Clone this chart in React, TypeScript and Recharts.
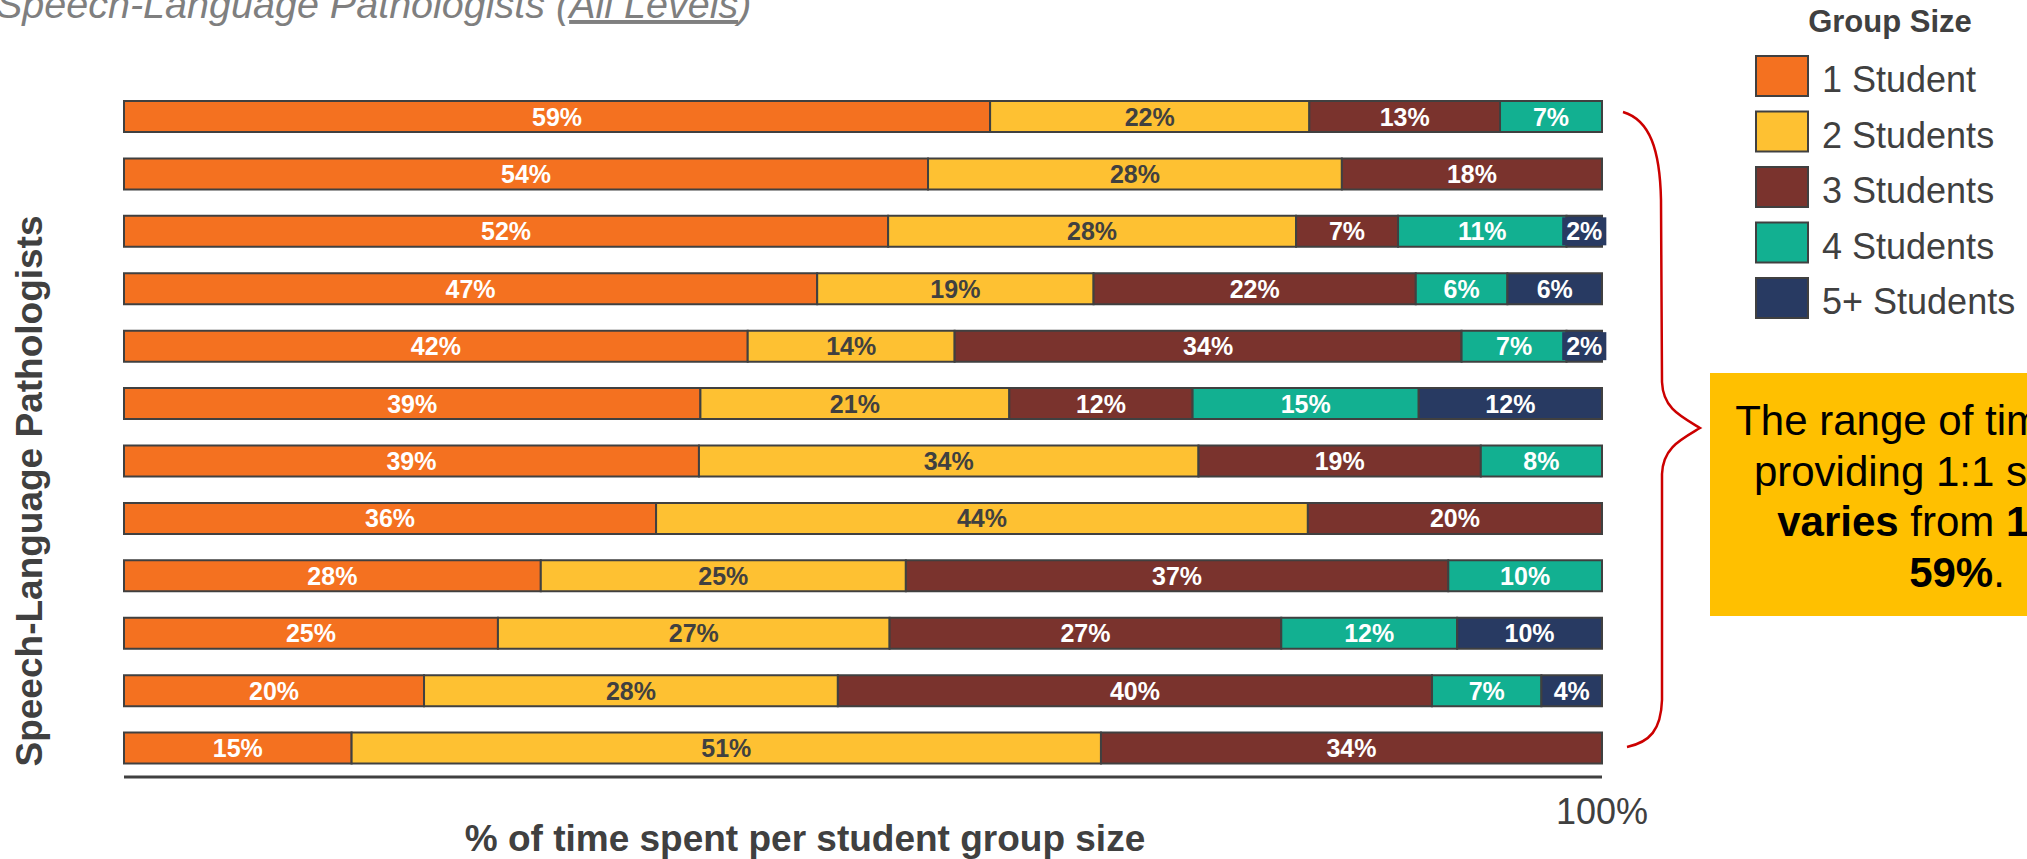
import { BarChart, Bar, XAxis, YAxis, Legend, LabelList } from "recharts";

const FONT = "Arial, 'Liberation Sans', Helvetica, sans-serif";

// one row per SLP, top to bottom
const categories = [
  "SLP 1", "SLP 2", "SLP 3", "SLP 4", "SLP 5", "SLP 6",
  "SLP 7", "SLP 8", "SLP 9", "SLP 10", "SLP 11", "SLP 12",
];

// % of time by group size
const oneStudent = [58.6, 54.4, 51.7, 46.9, 42.2, 39.0, 38.9, 36.0, 28.2, 25.3, 20.3, 15.4];
const twoStudents = [21.6, 28.0, 27.6, 18.7, 14.0, 20.9, 33.8, 44.1, 24.7, 26.5, 28.0, 50.7];
const threeStudents = [12.9, 17.6, 6.9, 21.8, 34.3, 12.4, 19.1, 19.9, 36.7, 26.5, 40.2, 33.9];
const fourStudents = [6.9, 0, 11.4, 6.2, 7.1, 15.3, 8.2, 0, 10.4, 11.9, 7.4, 0];
const fivePlusStudents = [0, 0, 2.4, 6.4, 2.4, 12.4, 0, 0, 0, 9.8, 4.1, 0];

const seriesNames = ["1 Student", "2 Students", "3 Students", "4 Students", "5+ Students"];
const seriesColors = ["#F47120", "#FEC132", "#7A332D", "#12B091", "#283A62"];
const labelColors = ["#FFFFFF", "#404040", "#FFFFFF", "#FFFFFF", "#FFFFFF"];
const xTicks = [100];

const seriesValues = [oneStudent, twoStudents, threeStudents, fourStudents, fivePlusStudents];

const data = categories.map((name, i) => {
  const row: Record<string, number | string> = { name };
  seriesValues.forEach((vals, s) => {
    row[`s${s}`] = vals[i];
  });
  return row;
});

// label with a filled box behind it, visible only when the segment is too narrow
const makeLabel = (fill: string, color: string) => (props: any) => {
  const { x, y, width, height, value } = props;
  if (!value) return null;
  const text = `${Math.round(value)}%`;
  const textW = (text.length - 1) * 0.556 * 25 + 0.889 * 25;
  const boxW = textW + 8;
  const cx = x + width / 2;
  const cy = y + height / 2;
  return (
    <g>
      {boxW > width - 2 && (
        <rect x={cx - boxW / 2} y={y + 1.5} width={boxW} height={height - 3} fill={fill} />
      )}
      <text
        x={cx}
        y={cy + 9}
        textAnchor="middle"
        fill={color}
        fontSize={25}
        fontWeight="bold"
        fontFamily={FONT}
      >
        {text}
      </text>
    </g>
  );
};

const renderLegend = (props: any) => {
  const { payload = [] } = props;
  return (
    <svg width={272} height={340}>
      <text x={135} y={32} textAnchor="middle" fontSize={31} fontWeight="bold" fill="#404040" fontFamily={FONT}>
        Group Size
      </text>
      {payload.map((entry: any, i: number) => (
        <g key={entry.value}>
          <rect x={1} y={56 + i * 55.5} width={52} height={40} fill={entry.color} stroke="#404040" strokeWidth={2} />
          <text x={67} y={92 + i * 55.5} fontSize={36} fill="#404040" fontFamily={FONT}>
            {entry.value}
          </text>
        </g>
      ))}
    </svg>
  );
};

const App = () => {
  return (
    <div
      style={{
        position: "fixed",
        left: 0,
        top: 0,
        width: 2027,
        height: 859,
        overflow: "hidden",
        background: "#fff",
        fontFamily: FONT,
      }}
    >
      <BarChart
        layout="vertical"
        width={2027}
        height={859}
        data={data}
        margin={{ top: 88, right: 425, bottom: 0, left: 124 }}
        barSize={31}
      >
        <XAxis
          type="number"
          domain={[0, 100]}
          ticks={xTicks}
          interval={0}
          tickFormatter={(v) => `${v}%`}
          tickLine={false}
          axisLine={{ stroke: "#404040", strokeWidth: 3 }}
          tick={{ fontSize: 36, fill: "#404040", fontFamily: FONT }}
          tickMargin={15}
          height={82}
        />
        <YAxis
          type="category"
          dataKey="name"
          width={0}
          tick={false}
          tickLine={false}
          axisLine={{ stroke: "#595959", strokeWidth: 2 }}
        />
        <Legend
          layout="vertical"
          align="center"
          verticalAlign="middle"
          content={renderLegend}
          wrapperStyle={{ left: 1755, top: 0, width: 272, height: 340 }}
        />
        {seriesNames.map((name, s) => (
          <Bar
            key={name}
            dataKey={`s${s}`}
            name={name}
            stackId="a"
            fill={seriesColors[s]}
            stroke="#404040"
            strokeWidth={2}
            isAnimationActive={false}
          >
            <LabelList dataKey={`s${s}`} content={makeLabel(seriesColors[s], labelColors[s])} />
          </Bar>
        ))}
      </BarChart>

      {/* titles, brace and callout */}
      <svg
        width={2027}
        height={859}
        style={{ position: "absolute", left: 0, top: 0, pointerEvents: "none" }}
        fontFamily={FONT}
      >
        {/* title runs off the top edge, as in the source slide */}
        <text x={-4} y={18} fontSize={39.5} fontStyle="italic" fill="#7F7F7F">
          Speech-Language Pathologists (<tspan style={{ textDecoration: "underline" }}>All Levels</tspan>)
        </text>
        <text
          transform="translate(42,491) rotate(-90)"
          textAnchor="middle"
          fontSize={37}
          fontWeight="bold"
          fill="#404040"
        >
          Speech-Language Pathologists
        </text>
        <text x={805} y={851} textAnchor="middle" fontSize={37} fontWeight="bold" fill="#404040">
          % of time spent per student group size
        </text>

        <path
          d="M1623,112 C1650,120 1660,150 1661,200 L1662,382 C1663,408 1680,416 1700,428 C1680,440 1663,448 1662,474 L1662,700 C1661,730 1650,742 1627,747"
          fill="none"
          stroke="#CC0000"
          strokeWidth={2.5}
        />

        <rect x={1710} y={373} width={494} height={243} fill="#FFC000" />
        <g fontSize={42} fill="#000" textAnchor="middle">
          <text x={1957} y={435}>The range of time spent</text>
          <text x={1957} y={486}>providing 1:1 services</text>
          <text x={1957} y={536}>
            <tspan fontWeight="bold">varies</tspan> from <tspan fontWeight="bold">15%</tspan> to
          </text>
          <text x={1957} y={587}>
            <tspan fontWeight="bold">59%</tspan>.
          </text>
        </g>
      </svg>
    </div>
  );
};

export default App;
